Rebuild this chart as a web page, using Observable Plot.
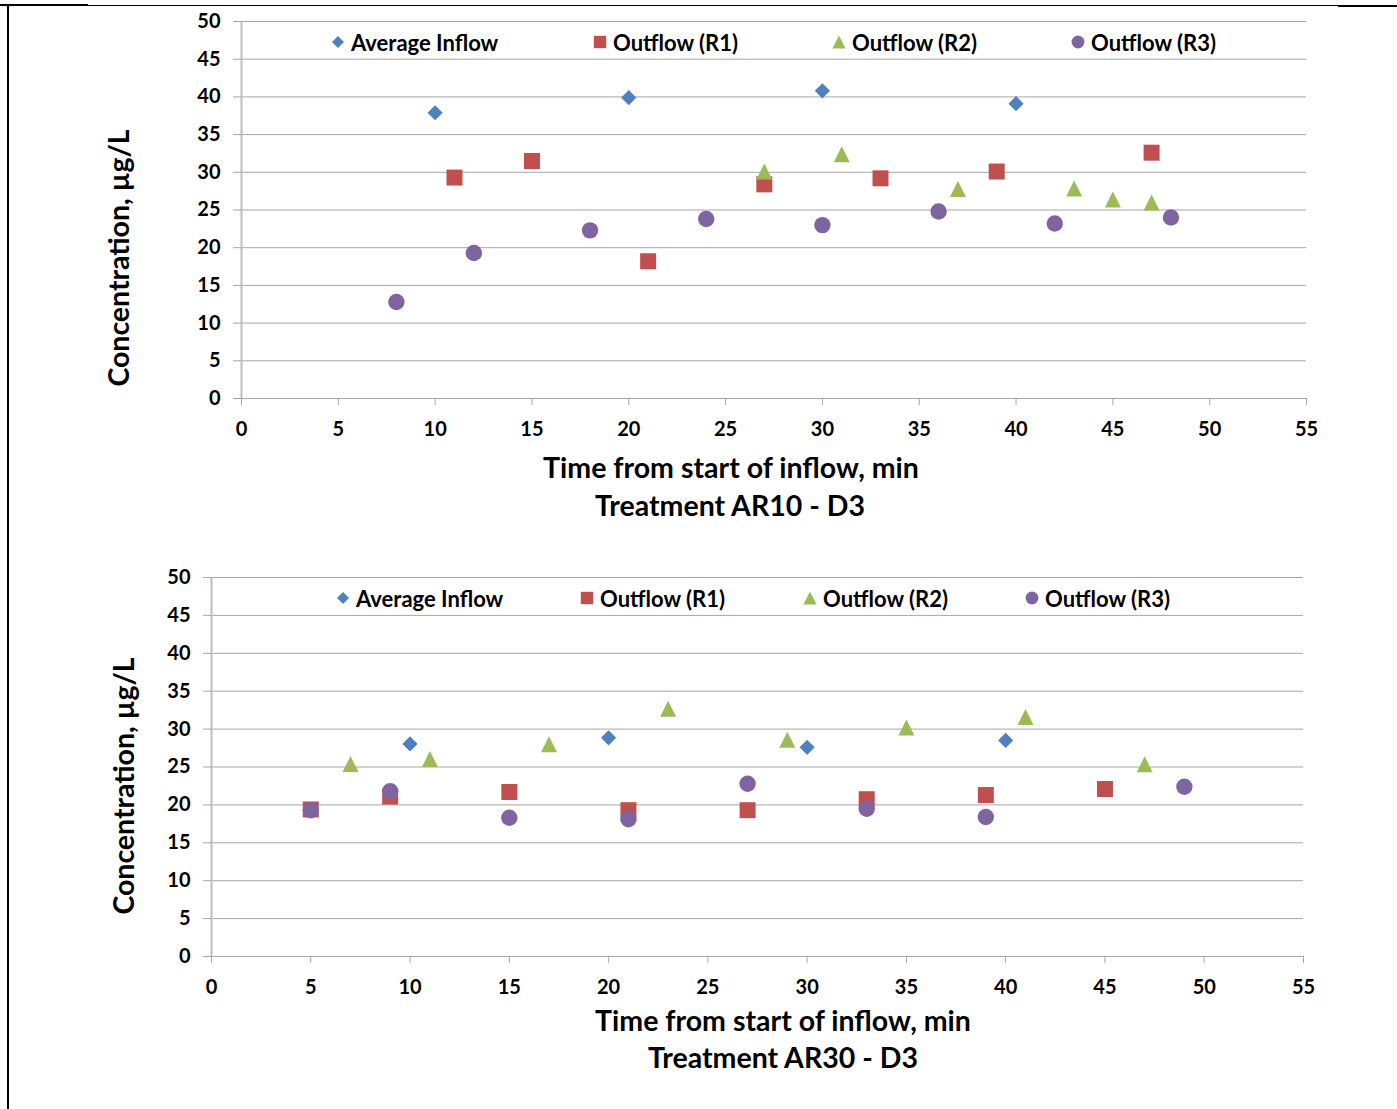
<!DOCTYPE html>
<html>
<head>
<meta charset="utf-8">
<script src="https://cdn.jsdelivr.net/npm/d3@7"></script>
<script src="https://cdn.jsdelivr.net/npm/@observablehq/plot@0.6"></script>
<style>
  html, body { margin: 0; padding: 0; background: #fff; }
  #page { position: relative; width: 1397px; height: 1109px; overflow: hidden; background: #fff;
          font-family: Lato, "Open Sans", sans-serif; font-weight: 700; color: #000; }
  .title { position: absolute; white-space: nowrap; font-size: 28.5px; font-weight: 700; transform: translate(-50%, -50%); }
  .ytitle { position: absolute; white-space: nowrap; font-size: 28.5px; font-weight: 700; transform: translate(-50%, -50%) rotate(-90deg); }
  .leg { position: absolute; white-space: nowrap; font-size: 22px; font-weight: 700; display: flex; align-items: center; }
  .line { position: absolute; background: #000; }
</style>
</head>
<body>
<div id="page"></div>
<script>
// ---------- data ----------
const seriesNames = ["Average Inflow", "Outflow (R1)", "Outflow (R2)", "Outflow (R3)"];
const seriesColors = ["#4F81BD", "#C0504D", "#9BBB59", "#8064A2"];
const xTicks = [0, 5, 10, 15, 20, 25, 30, 35, 40, 45, 50, 55];
const yTicks = [0, 5, 10, 15, 20, 25, 30, 35, 40, 45, 50];

// Treatment AR10 - D3
const ar10InflowTime = [10, 20, 30, 40];
const ar10InflowConc = [37.9, 39.9, 40.8, 39.1];
const ar10R1Time = [11, 15, 21, 27, 33, 39, 47];
const ar10R1Conc = [29.3, 31.5, 18.2, 28.4, 29.2, 30.1, 32.6];
const ar10R2Time = [27, 31, 37, 43, 45, 47];
const ar10R2Conc = [30.1, 32.4, 27.8, 27.85, 26.4, 26.0];
const ar10R3Time = [8, 12, 18, 24, 30, 36, 42, 48];
const ar10R3Conc = [12.8, 19.3, 22.3, 23.8, 23.0, 24.8, 23.2, 24.0];

// Treatment AR30 - D3
const ar30InflowTime = [10, 20, 30, 40];
const ar30InflowConc = [28.05, 28.85, 27.6, 28.5];
const ar30R1Time = [5, 9, 15, 21, 27, 33, 39, 45];
const ar30R1Conc = [19.4, 21.1, 21.7, 19.3, 19.3, 20.75, 21.3, 22.1];
const ar30R2Time = [7, 11, 17, 23, 29, 35, 41, 47];
const ar30R2Conc = [25.4, 26.05, 28.0, 32.7, 28.6, 30.2, 31.6, 25.35];
const ar30R3Time = [5, 9, 15, 21, 27, 33, 39, 49];
const ar30R3Conc = [19.3, 21.8, 18.3, 18.1, 22.8, 19.5, 18.4, 22.4];

// ---------- symbols ----------
const rad = size => Math.sqrt(size / Math.PI);
const symDiamond = { draw(c, size) { const r = rad(size); c.moveTo(0, -r); c.lineTo(r, 0); c.lineTo(0, r); c.lineTo(-r, 0); c.closePath(); } };
const symSquare = { draw(c, size) { const r = rad(size); c.moveTo(-r, -r); c.lineTo(r, -r); c.lineTo(r, r); c.lineTo(-r, r); c.closePath(); } };
const symTriangle = { draw(c, size) { const r = rad(size); c.moveTo(0, -r); c.lineTo(r, r); c.lineTo(-r, r); c.closePath(); } };
const symCircle = { draw(c, size) { const r = rad(size); c.moveTo(r, 0); c.arc(0, 0, r, 0, 2 * Math.PI); c.closePath(); } };
const seriesSymbols = [symDiamond, symSquare, symTriangle, symCircle];
const seriesR = [7.6, 8, 8, 8.2];

const zipPts = (t, v) => t.map((d, i) => ({ t: d, v: v[i] }));

function makeChart(cfg) {
  const gridColor = "#a6a6a6";
  const marks = [
    Plot.gridY(yTicks, { stroke: gridColor, strokeOpacity: 1, strokeWidth: 1 }),
    Plot.ruleX([0], { stroke: "#bdbdbd", strokeWidth: 2 }),
    Plot.axisY(yTicks, { tickSize: 8, tickPadding: 13, stroke: gridColor, fill: "#000", label: null, fontSize: 20 }),
    Plot.axisX(xTicks, { tickSize: 7, tickPadding: 16, stroke: gridColor, fill: "#000", label: null, fontSize: 20 })
  ];
  cfg.series.forEach((s, i) => {
    marks.push(Plot.dot(zipPts(s[0], s[1]), {
      x: "t", y: "v", symbol: seriesSymbols[i], r: seriesR[i], fill: seriesColors[i], stroke: "none"
    }));
  });
  const svg = Plot.plot({
    width: 1397,
    height: cfg.height,
    marginLeft: cfg.x0,
    marginRight: 1397 - cfg.x1,
    marginTop: cfg.yTop,
    marginBottom: cfg.height - cfg.yBottom,
    x: { domain: [0, 55] },
    y: { domain: [0, 50] },
    style: { fontFamily: "Lato, 'Open Sans', sans-serif", fontWeight: 700, fontSize: "20px", color: "#000", background: "transparent", overflow: "visible" },
    marks
  });
  svg.style.position = "absolute";
  svg.style.left = "0px";
  svg.style.top = cfg.top + "px";
  return svg;
}

const page = document.getElementById("page");

function addText(cls, txt, x, y) {
  const d = document.createElement("div");
  d.className = cls; d.textContent = txt;
  d.style.left = x + "px"; d.style.top = y + "px";
  page.appendChild(d);
}

function addLegend(xs, y) {
  seriesNames.forEach((name, i) => {
    const item = document.createElement("div");
    item.className = "leg";
    const s = 14;
    const svg = d3.create("svg").attr("width", s).attr("height", s).style("margin-right", "6px");
    const sizes = [6, 6.2, 6.6, 6.4];
    const r = sizes[i];
    svg.append("path")
      .attr("transform", `translate(${s / 2},${s / 2})`)
      .attr("d", d3.symbol(seriesSymbols[i], Math.PI * r * r)())
      .attr("fill", seriesColors[i]);
    item.appendChild(svg.node());
    const sp = document.createElement("span");
    sp.textContent = name;
    item.appendChild(sp);
    item.style.left = (xs[i] - s / 2) + "px";
    item.style.top = (y - 14) + "px";
    item.style.height = "28px";
    page.appendChild(item);
  });
}

// frame lines
[[0, 4, 88, 2], [88, 5, 1252, 1], [1338, 5, 59, 2], [7, 5, 2, 1104]].forEach(([l, t, w, h]) => {
  const d = document.createElement("div");
  d.className = "line";
  Object.assign(d.style, { left: l + "px", top: t + "px", width: w + "px", height: h + "px" });
  page.appendChild(d);
});

// top chart
page.appendChild(makeChart({
  top: 0, height: 450, x0: 241, x1: 1306, yTop: 21, yBottom: 398,
  series: [[ar10InflowTime, ar10InflowConc], [ar10R1Time, ar10R1Conc], [ar10R2Time, ar10R2Conc], [ar10R3Time, ar10R3Conc]]
}));
addLegend([338, 600, 839, 1078], 42);
addText("title", "Time from start of inflow, min", 731, 467);
addText("title", "Treatment AR10 - D3", 730, 505);
addText("ytitle", "Concentration, µg/L", 118, 258);

// bottom chart
page.appendChild(makeChart({
  top: 540, height: 460, x0: 211, x1: 1303, yTop: 37, yBottom: 416,
  series: [[ar30InflowTime, ar30InflowConc], [ar30R1Time, ar30R1Conc], [ar30R2Time, ar30R2Conc], [ar30R3Time, ar30R3Conc]]
}));
addLegend([343, 587, 810, 1032], 598);
addText("title", "Time from start of inflow, min", 783, 1020);
addText("title", "Treatment AR30 - D3", 783, 1057);
addText("ytitle", "Concentration, µg/L", 123, 786);
</script>
</body>
</html>
